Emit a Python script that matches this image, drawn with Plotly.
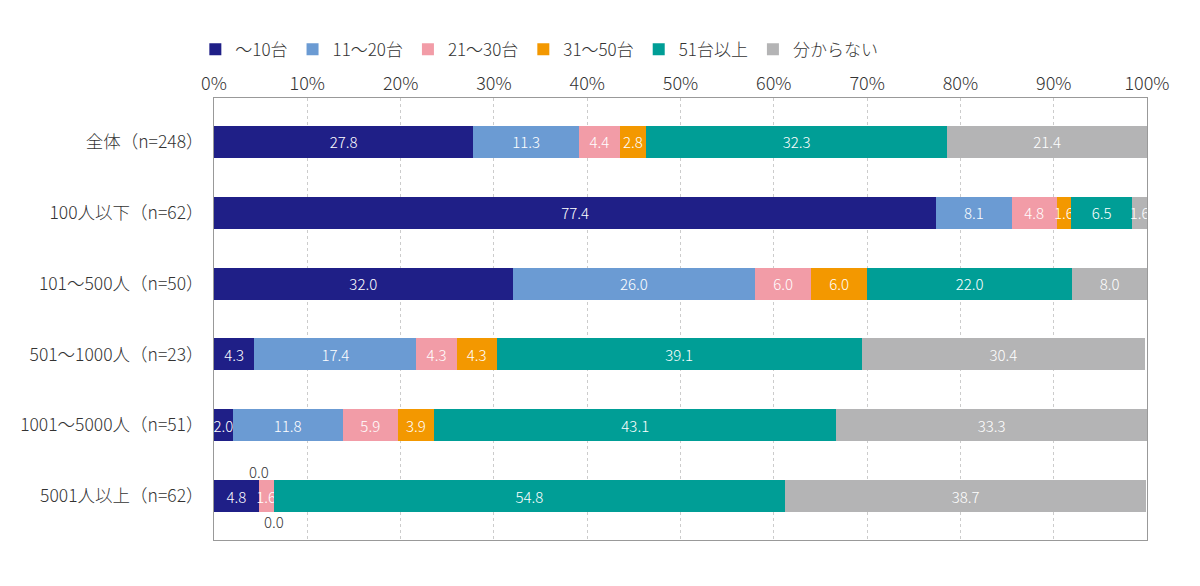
import plotly.graph_objects as go

# 回答区分ごとの割合 (%)
categories = ['全体（n=248）', '100人以下（n=62）', '101～500人（n=50）',
              '501～1000人（n=23）', '1001～5000人（n=51）', '5001人以上（n=62）']
series_names = ['～10台', '11～20台', '21～30台', '31～50台', '51台以上', '分からない']

s_10 = [27.8, 77.4, 32.0, 4.3, 2.0, 4.8]
s_20 = [11.3, 8.1, 26.0, 17.4, 11.8, 0.0]
s_30 = [4.4, 4.8, 6.0, 4.3, 5.9, 1.6]
s_50 = [2.8, 1.6, 6.0, 4.3, 3.9, 0.0]
s_51 = [32.3, 6.5, 22.0, 39.1, 43.1, 54.8]
s_unknown = [21.4, 1.6, 8.0, 30.4, 33.3, 38.7]

series = [s_10, s_20, s_30, s_50, s_51, s_unknown]
colors = ['#1f1f87', '#6b9bd3', '#f29ca7', '#f39800', '#009e96', '#b4b4b5']

font = 'Noto Sans CJK JP'

fig = go.Figure()
for name, vals, col in zip(series_names, series, colors):
    fig.add_trace(go.Bar(
        y=categories, x=vals, name=name, orientation='h',
        marker=dict(color=col, line=dict(width=0)),
        text=[f'{v:.1f}' if v > 0 else '' for v in vals],
        textposition='inside', insidetextanchor='middle', textangle=0,
        insidetextfont=dict(color='white', size=15, family=font, weight=300),
        width=0.45,
    ))

# 0.0 の値はバーの外に表示 (上・下の順)
annotations = []
shift = 25
for i, cat in enumerate(categories):
    cum = 0
    for vals in series:
        v = vals[i]
        if v == 0:
            annotations.append(dict(x=cum, y=cat, text='0.0', showarrow=False,
                                    yshift=shift,
                                    font=dict(size=15, color='#333', family=font, weight=300)))
            shift = -shift
        cum += v

fig.update_layout(
    barmode='stack',
    width=1184, height=570,
    margin=dict(l=204, r=45, t=90, b=38),
    plot_bgcolor='white', paper_bgcolor='white',
    font=dict(family=font, size=17, color='#333', weight=300),
    uniformtext=dict(minsize=15, mode='show'),
    legend=dict(orientation='h', x=-0.02, xanchor='left', y=1.109, yanchor='middle',
                font=dict(size=17, weight=300), traceorder='normal', itemclick=False),
    annotations=annotations,
)
fig.update_xaxes(side='top', range=[0, 100], dtick=10, ticksuffix='%',
                 showgrid=True, gridcolor='#cccccc', griddash='3px,3px', gridwidth=1,
                 showline=True, linecolor='#999999', mirror=True, zeroline=False,
                 ticks='', tickfont=dict(size=18, weight=300))
fig.update_yaxes(type='category', range=[5.62, -0.62], showline=True,
                 linecolor='#999999', mirror=True, showgrid=False,
                 ticks='', ticklabelstandoff=6, tickfont=dict(size=17.5, weight=300))

fig.write_html('out.html')
